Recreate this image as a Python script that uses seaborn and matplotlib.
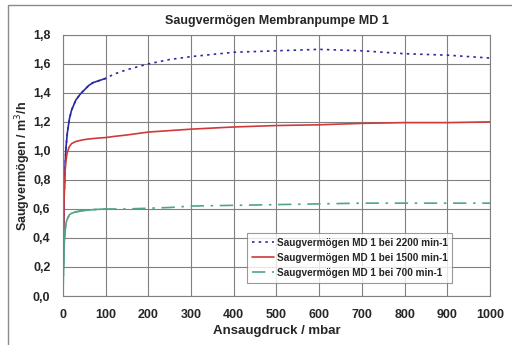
import matplotlib
matplotlib.use("Agg")
import matplotlib.pyplot as plt
import numpy as np
import pandas as pd
import seaborn as sns
from matplotlib.patches import Rectangle

# Ansaugdruck / mbar and Saugvermögen / m3/h
druck = [0, 1, 2, 3, 5, 7, 10, 15, 20, 30, 40, 50, 60, 70, 80, 100, 120, 150, 200, 250,
         300, 400, 500, 600, 700, 800, 900, 1000]
md1_2200 = [0.0, 0.30, 0.55, 0.72, 0.90, 1.02, 1.12, 1.22, 1.28, 1.35, 1.39, 1.42, 1.45, 1.47, 1.48, 1.50, 1.53, 1.56, 1.60, 1.63,
            1.65, 1.68, 1.69, 1.70, 1.69, 1.67, 1.66, 1.64]
md1_1500 = [0.0, 0.30, 0.55, 0.72, 0.86, 0.93, 0.99, 1.03, 1.05, 1.065, 1.072, 1.078, 1.082, 1.085, 1.088, 1.092, 1.10, 1.11, 1.13, 1.14,
            1.15, 1.165, 1.175, 1.18, 1.19, 1.195, 1.195, 1.20]
md1_700 = [0.0, 0.15, 0.28, 0.36, 0.45, 0.50, 0.53, 0.56, 0.57, 0.58, 0.585, 0.59, 0.592, 0.595, 0.597, 0.60, 0.60, 0.60, 0.605, 0.61,
           0.62, 0.625, 0.63, 0.635, 0.64, 0.64, 0.64, 0.64]

labels = ["Saugvermögen MD 1 bei 2200 min-1",
          "Saugvermögen MD 1 bei 1500 min-1",
          "Saugvermögen MD 1 bei 700 min-1"]
colors = ["#2a2aa8", "#d03a3a", "#4fa584"]
styles = [(0, (1.5, 2.5)), "-", (0, (8, 4, 1.5, 4))]

df = pd.DataFrame({"druck": druck, labels[0]: md1_2200, labels[1]: md1_1500, labels[2]: md1_700})

sns.set_style("white")
plt.rcParams["font.family"] = ["Liberation Sans", "DejaVu Sans"]

fig = plt.figure(figsize=(5.12, 3.45), dpi=100)
ax = fig.add_axes([0.123, 0.142, 0.834, 0.757])

# outer frame of the original graphic
fig.patches.append(Rectangle((8 / 512, -0.1), 1.2, 1 - 5 / 345 + 0.1, transform=fig.transFigure,
                             fill=False, edgecolor="#8a8a8a", lw=1.0))

for lab, col, ls in zip(labels, colors, styles):
    sns.lineplot(data=df, x="druck", y=lab, ax=ax, color=col, linestyle=ls, lw=1.2, label=lab)
    # dense part near the origin looks solid in the original
    near = df[df["druck"] <= 100]
    if ls != "-":
        sns.lineplot(data=near, x="druck", y=lab, ax=ax, color=col, lw=1.2, legend=False)

ax.set_xlim(0, 1000)
ax.set_ylim(0, 1.8)
ax.set_xticks(np.arange(0, 1001, 100))
ax.set_yticks(np.arange(0, 1.81, 0.2))
ax.set_yticklabels([f"{v:.1f}".replace(".", ",") for v in np.arange(0, 1.81, 0.2)])
ax.grid(True, color="#808080", lw=0.8)
for s in ax.spines.values():
    s.set_color("#808080")
    s.set_linewidth(0.8)
ax.tick_params(axis="both", direction="out", length=4, width=0.8, color="#808080",
               labelsize=9, pad=5)
for t in ax.get_xticklabels() + ax.get_yticklabels():
    t.set_fontweight("bold")

ax.set_xlabel("Ansaugdruck / mbar", fontsize=9.5, fontweight="bold", labelpad=3)
ax.set_ylabel("Saugvermögen / m$^3$/h", fontsize=9, fontweight="bold", labelpad=0)
ax.set_title("Saugvermögen Membranpumpe MD 1", fontsize=9, fontweight="bold", pad=8)

leg = ax.legend(loc="lower right", bbox_to_anchor=(0.912, 0.05), borderaxespad=0,
                prop={"weight": "bold", "size": 7.2}, frameon=True, fancybox=False,
                edgecolor="#808080", handlelength=2.2, handletextpad=0.3,
                borderpad=0.5, labelspacing=0.5)
leg.get_frame().set_linewidth(0.8)

fig.savefig("out.png", dpi=100)
